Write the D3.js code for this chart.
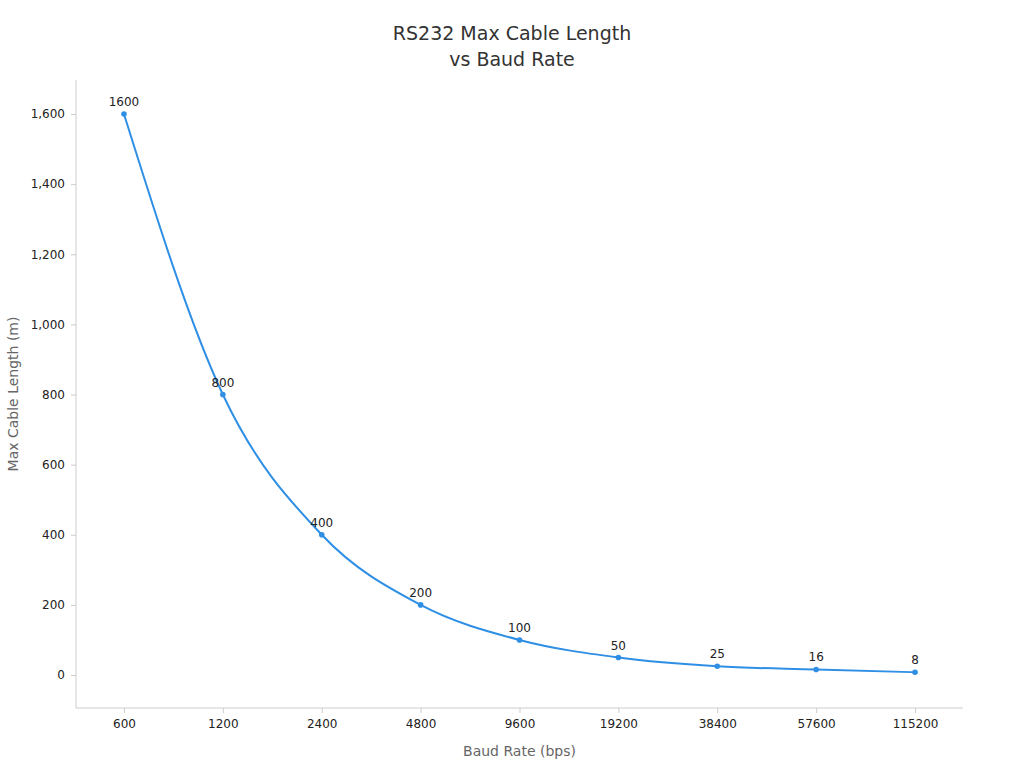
<!DOCTYPE html>
<html><head><meta charset="utf-8">
<script src="https://cdn.jsdelivr.net/npm/d3@7"></script>
<style>body{margin:0;background:#fff;font-family:"DejaVu Sans",sans-serif;}</style>
</head><body><div id="chart"></div>
<script>
const baudRates = ["600","1200","2400","4800","9600","19200","38400","57600","115200"];
const cableLengths = [1600, 800, 400, 200, 100, 50, 25, 16, 8];
const yTicks = [0, 200, 400, 600, 800, 1000, 1200, 1400, 1600];

const W = 1024, H = 768;
const plotLeft = 76, plotRight = 963, plotTop = 80, plotBottom = 708;
const color = "#2f8fe5";

const svg = d3.select("#chart").append("svg").attr("width", W).attr("height", H);

const x = d3.scalePoint().domain(baudRates).range([plotLeft, plotRight]).padding(0.485);
const y = d3.scaleLinear().domain([-94, 1697]).range([plotBottom, plotTop]);

svg.append("text").attr("x", 512).attr("y", 40).attr("text-anchor", "middle")
  .attr("font-size", 19).attr("fill", "#333").text("RS232 Max Cable Length");
svg.append("text").attr("x", 512).attr("y", 66).attr("text-anchor", "middle")
  .attr("font-size", 19).attr("fill", "#333").text("vs Baud Rate");

const xAxis = svg.append("g").attr("transform", `translate(0,${plotBottom})`)
  .call(d3.axisBottom(x).tickSizeOuter(0).tickSize(5).tickPadding(6));
xAxis.select(".domain").attr("d", `M${plotLeft},0H${plotRight}`);
const yAxis = svg.append("g").attr("transform", `translate(${plotLeft},0)`)
  .call(d3.axisLeft(y).tickValues(yTicks).tickSizeOuter(0).tickSize(5).tickPadding(6));
yAxis.select(".domain").attr("d", `M0,${plotBottom}V${plotTop}`);
svg.selectAll(".domain, .tick line").attr("stroke", "#ccc");
svg.selectAll(".tick text").attr("font-size", 12).attr("fill", "#222").attr("font-family", "DejaVu Sans");

svg.append("text").attr("x", (plotLeft + plotRight) / 2).attr("y", 756).attr("text-anchor", "middle")
  .attr("font-size", 14).attr("fill", "#666").text("Baud Rate (bps)");
svg.append("text").attr("transform", `translate(18,${(plotTop + plotBottom) / 2}) rotate(-90)`)
  .attr("text-anchor", "middle").attr("font-size", 14).attr("fill", "#666").text("Max Cable Length (m)");

const pts = baudRates.map((b, i) => [x(b), y(cableLengths[i]), cableLengths[i]]);
svg.append("path").datum(pts).attr("fill", "none").attr("stroke", color).attr("stroke-width", 2)
  .attr("d", d3.line().curve(d3.curveMonotoneX));
svg.selectAll("circle.pt").data(pts).join("circle").attr("cx", d => d[0]).attr("cy", d => d[1])
  .attr("r", 2.8).attr("fill", color);
svg.selectAll("text.lbl").data(pts).join("text").attr("x", d => d[0]).attr("y", d => d[1] - 8)
  .attr("text-anchor", "middle").attr("font-size", 12).attr("fill", "#222").text(d => d[2]);
</script></body></html>
